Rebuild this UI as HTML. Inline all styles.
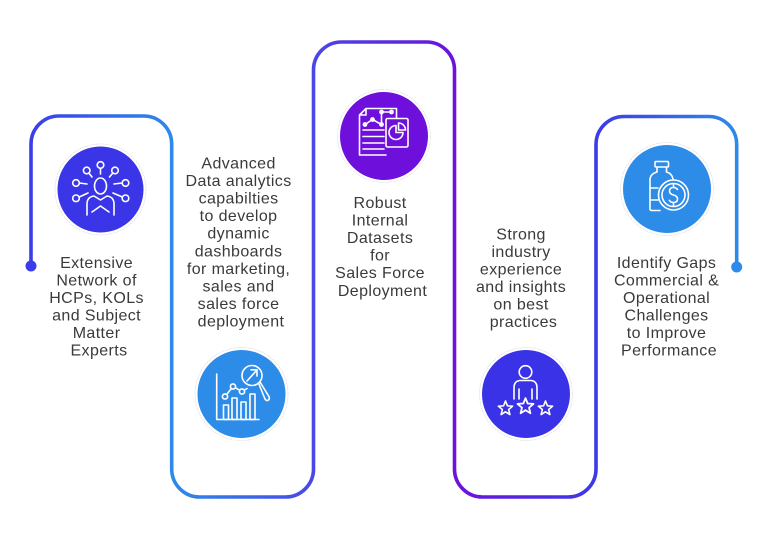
<!DOCTYPE html>
<html>
<head>
<meta charset="utf-8">
<style>
  html,body{margin:0;padding:0;background:#fff;}
  svg{display:block;}
  .t{font-family:"Liberation Sans",sans-serif;font-size:16px;letter-spacing:0.4px;fill:#3a3a3a;text-anchor:middle;}
  .ic{fill:none;stroke:#fff;stroke-width:1.6;stroke-linecap:round;stroke-linejoin:round;}
</style>
</head>
<body>
<svg width="768" height="540" viewBox="0 0 768 540" xmlns="http://www.w3.org/2000/svg">
  <defs>
    <linearGradient id="g" gradientUnits="userSpaceOnUse" x1="31" y1="0" x2="737" y2="0">
      <stop offset="0" stop-color="#3b3de8"/>
      <stop offset="0.199" stop-color="#2e8ae9"/>
      <stop offset="0.399" stop-color="#4848e8"/>
      <stop offset="0.6" stop-color="#6c12d9"/>
      <stop offset="0.8" stop-color="#3c3ae8"/>
      <stop offset="1" stop-color="#2e8ae9"/>
    </linearGradient>
    <path id="star" d="M0,-7.5 L1.94,-2.67 L7.13,-2.32 L3.14,1.02 L4.41,6.07 L0,3.3 L-4.41,6.07 L-3.14,1.02 L-7.13,-2.32 L-1.94,-2.67 Z"/>
  </defs>

  <!-- connector path -->
  <path d="M31,266 V144 A28 28 0 0 1 59,116 H143.7 A28 28 0 0 1 171.7,144 V469 A28 28 0 0 0 199.7,497 H285.5 A28 28 0 0 0 313.5,469 V70 A28 28 0 0 1 341.5,42 H426.5 A28 28 0 0 1 454.5,70 V469 A28 28 0 0 0 482.5,497 H568 A28 28 0 0 0 596,469 V144.5 A28 28 0 0 1 624,116.5 H708.7 A28 28 0 0 1 736.7,144.5 V267"
        fill="none" stroke="url(#g)" stroke-width="3.6"/>
  <circle cx="31" cy="266" r="5.5" fill="#3b3de8"/>
  <circle cx="736.7" cy="267" r="5.5" fill="#2e8ae9"/>

  <!-- circle 1 : network -->
  <circle cx="100.5" cy="189.5" r="45.5" fill="none" stroke="#dcdcdc" stroke-width="0.8" stroke-dasharray="1.5 1"/>
  <circle cx="100.5" cy="189.5" r="43" fill="#3a35e6"/>
  <g class="ic">
    <ellipse cx="100.5" cy="186" rx="6" ry="8"/>
    <path d="M87,215 V204 Q87,197 94,196 L100.5,200 L107,196 Q114,197 114,204 V215"/>
    <path d="M92,212 L100.5,206 L109,212"/>
    <circle cx="86.7" cy="170.5" r="3.3"/><line x1="88.8" y1="173" x2="92" y2="177"/>
    <circle cx="100.5" cy="165" r="3.3"/><line x1="100.5" y1="168.3" x2="100.5" y2="174"/>
    <circle cx="115" cy="170.5" r="3.3"/><line x1="112.8" y1="173" x2="109.5" y2="177"/>
    <circle cx="76" cy="183" r="3.3"/><line x1="79.3" y1="183" x2="87" y2="184"/>
    <circle cx="125.5" cy="183" r="3.3"/><line x1="122.2" y1="183" x2="114" y2="184"/>
    <circle cx="76" cy="198.3" r="3.3"/><line x1="79.2" y1="197" x2="88" y2="193"/>
    <circle cx="125.5" cy="198.3" r="3.3"/><line x1="122.3" y1="197" x2="113" y2="193"/>
  </g>

  <!-- circle 2 : analytics -->
  <circle cx="241.5" cy="394" r="46.5" fill="none" stroke="#dcdcdc" stroke-width="0.8" stroke-dasharray="1.5 1"/>
  <circle cx="241.5" cy="394" r="44" fill="#2e8ce9"/>
  <g class="ic">
    <path d="M216.7,374 V419.5 H259"/>
    <rect x="223.5" y="405" width="5" height="14.5"/>
    <rect x="232" y="398" width="5" height="21.5"/>
    <rect x="241" y="402" width="5" height="17.5"/>
    <rect x="250" y="394" width="5" height="25.5"/>
    <circle cx="225" cy="396.5" r="2.6"/>
    <circle cx="233" cy="386.5" r="2.6"/>
    <circle cx="242" cy="391.5" r="2.6"/>
    <path d="M226.6,394.5 L231.4,388.5 M235.2,387.7 L239.8,390.3 M244.2,390.2 L247,388.5"/>
    <circle cx="252" cy="375.5" r="10"/>
    <path d="M258.5,383 L265,399 Q267,402 269,399.5 Q270,397.5 268,395 L260,382"/>
    <path d="M247,381 L257,370 M251,369.8 H257 V376"/>
  </g>

  <!-- circle 3 : datasets -->
  <circle cx="384" cy="136" r="46.5" fill="none" stroke="#dcdcdc" stroke-width="0.8" stroke-dasharray="1.5 1"/>
  <circle cx="384" cy="136" r="44" fill="#6f0fdb"/>
  <g class="ic">
    <path d="M366,108.5 H396.5 V118 M386,155 H359.5 V115 L366,108.5 V115 H359.5"/>
    <line x1="363" y1="130" x2="384" y2="130"/>
    <line x1="363" y1="136.5" x2="384" y2="136.5"/>
    <line x1="363" y1="143" x2="384" y2="143"/>
    <line x1="363" y1="149" x2="384" y2="149"/>
    <path d="M365,124.5 L372.5,119.5 L381.5,124.5 V112 H391.5"/>
    <circle cx="365" cy="124.5" r="1.6"/><circle cx="372.5" cy="119.5" r="1.6"/>
    <circle cx="381.5" cy="124.5" r="1.6"/><circle cx="381.5" cy="112" r="1.6"/><circle cx="391.5" cy="112" r="1.6"/>
    <rect x="386" y="118.5" width="22" height="28.5" rx="1.5"/>
    <path d="M396,125.5 A7,7 0 1 0 403,132.5 H396 Z"/>
    <path d="M398.5,123 A7,7 0 0 1 405.5,130 H398.5 Z"/>
  </g>

  <!-- circle 4 : person with stars -->
  <circle cx="526" cy="394" r="46.5" fill="none" stroke="#dcdcdc" stroke-width="0.8" stroke-dasharray="1.5 1"/>
  <circle cx="526" cy="394" r="44" fill="#3a32e6"/>
  <g class="ic">
    <circle cx="525.5" cy="372" r="6.3"/>
    <path d="M514,399 V388 Q514,381 520,380.5 H531 Q537,381 537,388 V399"/>
    <path d="M519,399 V389 M532,399 V389"/>
    <use href="#star" transform="translate(505.5,408.5)"/>
    <use href="#star" transform="translate(525.5,406.5) scale(1.12)"/>
    <use href="#star" transform="translate(545.5,408.5)"/>
  </g>

  <!-- circle 5 : bottle + coin -->
  <circle cx="667" cy="189" r="46.5" fill="none" stroke="#dcdcdc" stroke-width="0.8" stroke-dasharray="1.5 1"/>
  <circle cx="667" cy="189" r="44" fill="#2e8ce9"/>
  <g class="ic">
    <rect x="655" y="161.5" width="13.5" height="5.5" rx="1"/>
    <path d="M657,167 V172 Q650,174 650,180 V209 Q650,210.5 652,210.5 H660"/>
    <path d="M666.5,167 V172 Q672,173.5 673,179"/>
    <line x1="650" y1="188" x2="658" y2="188"/>
    <line x1="650" y1="200" x2="658" y2="200"/>
    <circle cx="673.5" cy="195" r="15"/>
    <circle cx="673.5" cy="195" r="11.5"/>
    <path d="M677.5,189.5 Q676,187.5 673.5,187.5 Q669.5,187.5 669.5,191 Q669.5,194 673.5,195 Q677.5,196 677.5,199 Q677.5,202.5 673.5,202.5 Q670.5,202.5 669.3,200.3 M673.5,184.5 V187.5 M673.5,202.5 V205.5"/>
  </g>

  <!-- texts -->
  <text class="t">
    <tspan x="99" y="268">Extensive</tspan>
    <tspan x="99" y="285.5">Network of</tspan>
    <tspan x="99" y="303">HCPs, KOLs</tspan>
    <tspan x="99" y="320.5">and Subject</tspan>
    <tspan x="99" y="338">Matter</tspan>
    <tspan x="99" y="355.5">Experts</tspan>
  </text>
  <text class="t">
    <tspan x="241" y="168.3">Advanced</tspan>
    <tspan x="241" y="185.9">Data analytics</tspan>
    <tspan x="241" y="203.5">capabilties</tspan>
    <tspan x="241" y="221.1">to develop</tspan>
    <tspan x="241" y="238.7">dynamic</tspan>
    <tspan x="241" y="256.3">dashboards</tspan>
    <tspan x="241" y="273.9">for marketing,</tspan>
    <tspan x="241" y="291.5">sales and</tspan>
    <tspan x="241" y="309.1">sales force</tspan>
    <tspan x="241" y="326.7">deployment</tspan>
  </text>
  <text class="t">
    <tspan x="382.5" y="207.8">Robust</tspan>
    <tspan x="382.5" y="225.4">Internal</tspan>
    <tspan x="382.5" y="243">Datasets</tspan>
    <tspan x="382.5" y="260.6">for</tspan>
    <tspan x="382.5" y="278.2">Sales Force</tspan>
    <tspan x="382.5" y="295.8">Deployment</tspan>
  </text>
  <text class="t">
    <tspan x="523.5" y="239.3">Strong</tspan>
    <tspan x="523.5" y="256.8">industry</tspan>
    <tspan x="523.5" y="274.3">experience</tspan>
    <tspan x="523.5" y="291.8">and insights</tspan>
    <tspan x="523.5" y="309.3">on best</tspan>
    <tspan x="523.5" y="326.8">practices</tspan>
  </text>
  <text class="t">
    <tspan x="669" y="267.8">Identify Gaps</tspan>
    <tspan x="669" y="285.3">Commercial &amp;</tspan>
    <tspan x="669" y="302.8">Operational</tspan>
    <tspan x="669" y="320.3">Challenges</tspan>
    <tspan x="669" y="337.8">to Improve</tspan>
    <tspan x="669" y="355.3">Performance</tspan>
  </text>
</svg>
</body>
</html>
